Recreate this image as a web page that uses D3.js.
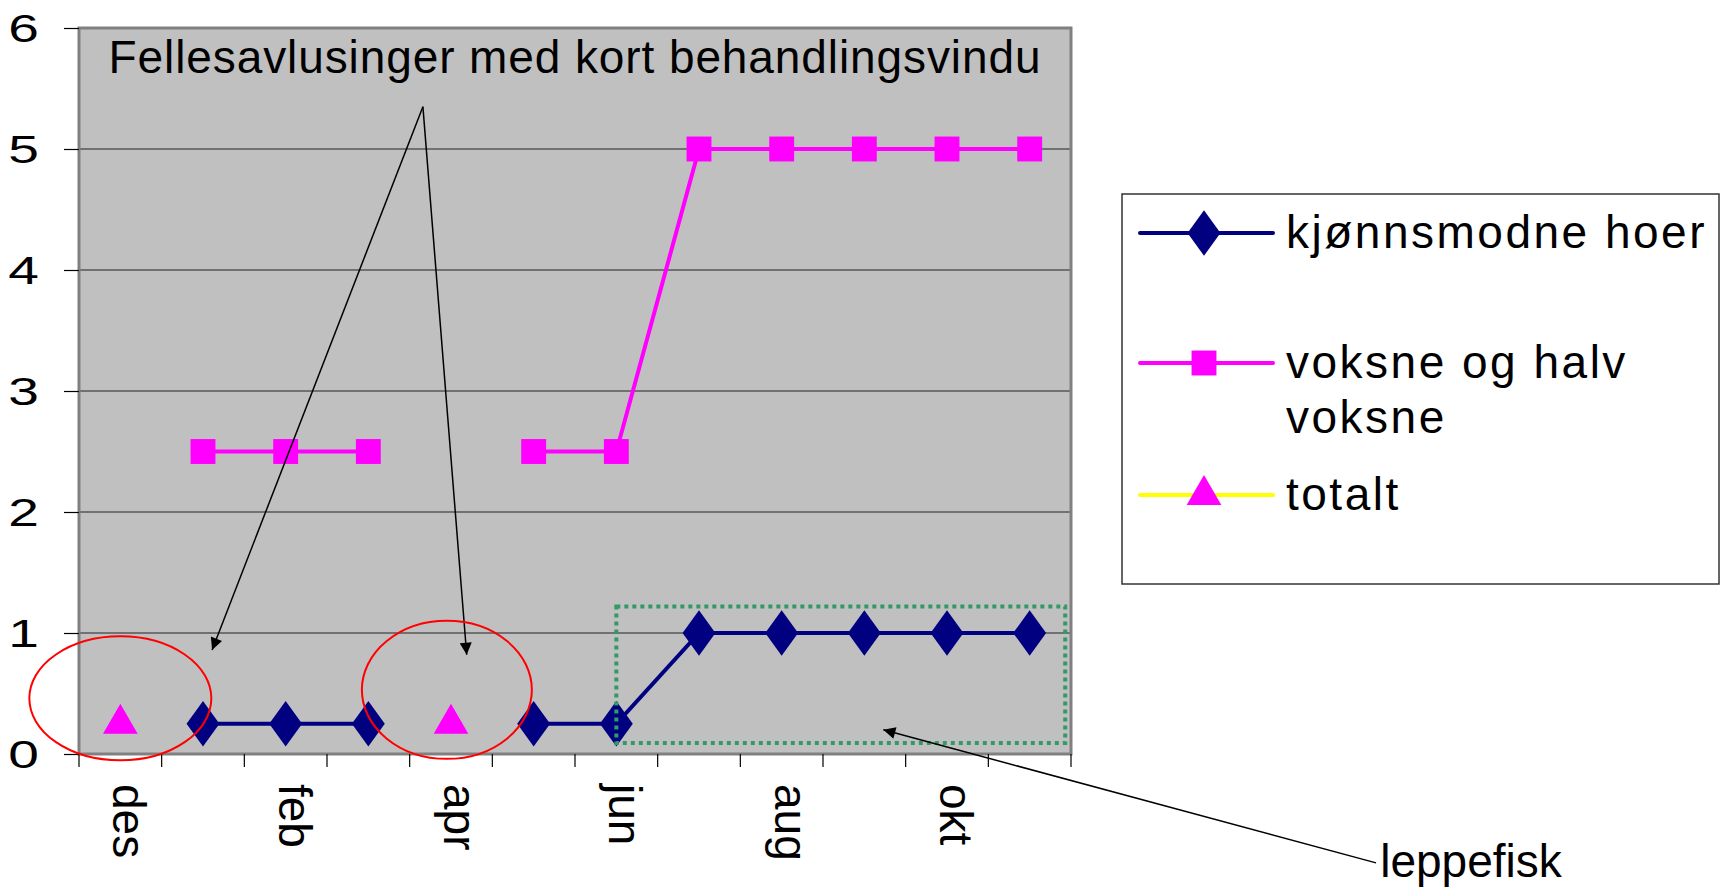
<html>
<head>
<meta charset="utf-8">
<style>
body { margin: 0; background: white; }
text { font-family: "Liberation Sans", Arial, sans-serif; fill: black; }
.axis path { display: none; }
.axis line { stroke: black; }
.leg text { letter-spacing: 2.5px; }
</style>
<script src="https://d3js.org/d3.v7.min.js"></script>
</head>
<body>
<svg id="chart" width="1722" height="890"></svg>
<script>
// months on the x axis, every other one gets a label
var months = ["des","jan","feb","mar","apr","mai","jun","jul","aug","sep","okt","nov"];
var shownMonths = ["des","feb","apr","jun","aug","okt"];
var yTicks = [0,1,2,3,4,5,6];

// series values (null = no observation)
var kjonnsmodne = [null,0.25,0.25,0.25,null,0.25,0.25,1,1,1,1,1];
var voksne      = [null,2.5,2.5,2.5,null,2.5,2.5,5,5,5,5,5];
var totalt      = [0.25,null,null,null,0.25,null,null,null,null,null,null,null];

var seriesNames = ["kjønnsmodne hoer","voksne og halv|voksne","totalt"];

var svg = d3.select("#chart");
var pL = 79, pR = 1071, pT = 28, pB = 754;

var x = d3.scaleBand().domain(months).range([pL, pR]);
var xf = d3.scaleLinear().domain([0, months.length]).range([pL, pR]); // fractional band index
var y = d3.scaleLinear().domain([0, 6]).range([pB, pT]);
var cx = function(m) { return x(m) + x.bandwidth() / 2; };

// plot area
svg.append("rect").attr("x", pL).attr("y", pT).attr("width", pR - pL).attr("height", pB - pT)
   .attr("fill", "#c0c0c0");

svg.selectAll(".grid").data(yTicks.slice(1, 6)).enter().append("line")
   .attr("x1", pL).attr("x2", pR)
   .attr("y1", function(d) { return y(d); }).attr("y2", function(d) { return y(d); })
   .attr("stroke", "#222").attr("stroke-width", 1.2);

svg.append("rect").attr("x", pL).attr("y", pT).attr("width", pR - pL).attr("height", pB - pT)
   .attr("fill", "none").attr("stroke", "#808080").attr("stroke-width", 3);

// y axis (labels are drawn wide in the original)
var yAxis = svg.append("g").attr("class", "axis").attr("transform", "translate(" + pL + ",0)")
   .call(d3.axisLeft(y).tickValues(yTicks).tickFormat(d3.format("d")).tickSize(15).tickPadding(8));
yAxis.selectAll("text").style("font-size", "38px").attr("dy", "0.36em")
   .attr("x", 0).attr("transform", "translate(-40,0) scale(1.45,1)");
yAxis.selectAll("line").attr("stroke-width", 1.2);

// x axis: ticks on band edges, rotated labels
var edges = d3.range(months.length + 1);
svg.selectAll(".xt").data(edges).enter().append("line")
   .attr("x1", function(d) { return xf(d); }).attr("x2", function(d) { return xf(d); })
   .attr("y1", pB).attr("y2", pB + 13)
   .attr("stroke", "black").attr("stroke-width", 1.2);

svg.selectAll(".xl").data(shownMonths).enter().append("text")
   .attr("transform", function(d) { return "translate(" + cx(d) + "," + (pB + 30) + ") rotate(90)"; })
   .attr("dy", "0.15em")
   .style("font-size", "46px")
   .text(function(d) { return d; });

// lines
var line = d3.line()
   .defined(function(d) { return d != null; })
   .x(function(d, i) { return cx(months[i]); })
   .y(function(d) { return y(d); });

svg.append("path").datum(voksne).attr("d", line)
   .attr("fill", "none").attr("stroke", "#ff00ff").attr("stroke-width", 4);
svg.append("path").datum(kjonnsmodne).attr("d", line)
   .attr("fill", "none").attr("stroke", "#000080").attr("stroke-width", 4);

function pts(arr) {
   return arr.map(function(v, i) { return {m: months[i], v: v}; }).filter(function(d) { return d.v != null; });
}

var diamond = d3.symbol().type(d3.symbolDiamond).size(600);
var square = d3.symbol().type(d3.symbolSquare).size(620);
var tri = d3.symbol().type(d3.symbolTriangle).size(520);

svg.selectAll(".sq").data(pts(voksne)).enter().append("path")
   .attr("d", square).attr("fill", "#ff00ff")
   .attr("transform", function(d) { return "translate(" + cx(d.m) + "," + y(d.v) + ")"; });
svg.selectAll(".dm").data(pts(kjonnsmodne)).enter().append("path")
   .attr("d", diamond).attr("fill", "#000080")
   .attr("transform", function(d) { return "translate(" + cx(d.m) + "," + y(d.v) + ") scale(1.25,1)"; });
svg.selectAll(".tr").data(pts(totalt)).enter().append("path")
   .attr("d", tri).attr("fill", "#ff00ff")
   .attr("transform", function(d) { return "translate(" + cx(d.m) + "," + y(d.v) + ")"; });

// annotations
var defs = svg.append("defs");
defs.append("marker").attr("id", "arr").attr("viewBox", "0 0 10 10").attr("refX", 10).attr("refY", 5)
   .attr("markerWidth", 14).attr("markerHeight", 12).attr("markerUnits", "userSpaceOnUse").attr("orient", "auto")
   .append("path").attr("d", "M0,0 L10,5 L0,10 z").attr("fill", "black");

svg.append("text").attr("x", xf(6.0)).attr("y", y(5.63)).attr("text-anchor", "middle")
   .style("font-size", "46px").style("letter-spacing", "0.9px")
   .text("Fellesavlusinger med kort behandlingsvindu");

var apex = [xf(4.16), y(5.35)];
[[1.61, 0.86], [4.69, 0.82]].forEach(function(t) {
   svg.append("line").attr("x1", apex[0]).attr("y1", apex[1])
      .attr("x2", xf(t[0])).attr("y2", y(t[1]))
      .attr("stroke", "black").attr("stroke-width", 1.5).attr("marker-end", "url(#arr)");
});

svg.append("ellipse").attr("cx", cx("des")).attr("cy", y(0.46)).attr("rx", 91).attr("ry", 62)
   .attr("fill", "none").attr("stroke", "#ff0000").attr("stroke-width", 2);
svg.append("ellipse").attr("cx", xf(4.45)).attr("cy", y(0.53)).attr("rx", 85).attr("ry", 69)
   .attr("fill", "none").attr("stroke", "#ff0000").attr("stroke-width", 2);

svg.append("rect").attr("x", xf(6.5)).attr("y", y(1.22)).attr("width", xf(11.93) - xf(6.5)).attr("height", y(0.09) - y(1.22))
   .attr("fill", "none").attr("stroke", "#339966").attr("stroke-width", 4).attr("stroke-dasharray", "4,4");

svg.append("line").attr("x1", xf(15.69)).attr("y1", y(-0.9)).attr("x2", xf(9.73)).attr("y2", y(0.2))
   .attr("stroke", "black").attr("stroke-width", 1.5).attr("marker-end", "url(#arr)");
svg.append("text").attr("x", xf(15.74)).attr("y", y(-1.02)).style("font-size", "46px").text("leppefisk");

// legend
var leg = svg.append("g").attr("class", "leg");
leg.append("rect").attr("x", 1122).attr("y", 194).attr("width", 597).attr("height", 390)
   .attr("fill", "white").attr("stroke", "#333").attr("stroke-width", 1.5);

var legRows = [
   {y: 233, color: "#000080", sym: diamond, fill: "#000080", sx: 1.25},
   {y: 363, color: "#ff00ff", sym: square, fill: "#ff00ff", sx: 1},
   {y: 495, color: "#ffff00", sym: tri, fill: "#ff00ff", sx: 1}
];
legRows.forEach(function(r, i) {
   leg.append("line").attr("x1", 1140).attr("x2", 1273).attr("y1", r.y).attr("y2", r.y)
      .attr("stroke", r.color).attr("stroke-width", 4).attr("stroke-linecap", "round");
   leg.append("path").attr("d", r.sym).attr("fill", r.fill)
      .attr("transform", "translate(1204," + r.y + ") scale(" + r.sx + ",1)");
   var t = leg.append("text").attr("x", 1286).attr("y", r.y + 15).style("font-size", "46px");
   seriesNames[i].split("|").forEach(function(s, j) {
      t.append("tspan").attr("x", 1286).attr("dy", j ? 55 : 0).text(s);
   });
});
</script>
</body>
</html>
